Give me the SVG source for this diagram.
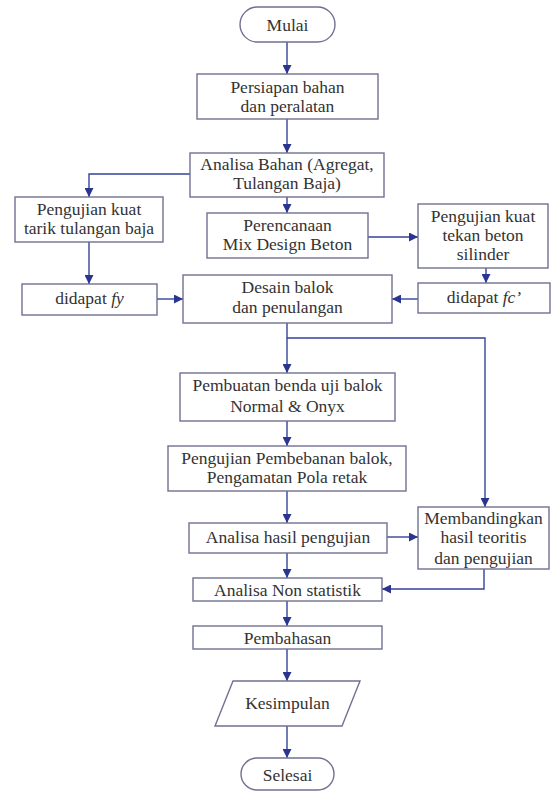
<svg xmlns="http://www.w3.org/2000/svg" width="554" height="792" viewBox="0 0 554 792">
<style>
.fcbox{fill:#fff;stroke:#707092;stroke-width:1.4}
.fclabel{font-family:'Liberation Serif','Times New Roman',serif;font-size:17.5px;fill:#333;text-anchor:middle}
.fcconn{fill:none;stroke:#34439a;stroke-width:1.4}
</style>
<defs>
<marker id="arrowhead" viewBox="0 0 10 10" refX="10" refY="5" markerWidth="9" markerHeight="9" markerUnits="userSpaceOnUse" orient="auto">
<path d="M0,0 L10,5 L0,10 z" fill="#2a3590"/>
</marker>
</defs>
<rect width="554" height="792" fill="#fff"/>
<g id="connectors" class="fcconn" marker-end="url(#arrowhead)">
<path d="M287,42 V74"/>
<path d="M287,119 V153"/>
<path d="M190,174 H89 V197"/>
<path d="M287,197 V213"/>
<path d="M368,237 H418"/>
<path d="M89,242 V284"/>
<path d="M486,268 V283"/>
<path d="M157,299 H183"/>
<path d="M418,299 H392"/>
<path d="M287,323 V373"/>
<path d="M287,338 H485 V507"/>
<path d="M287,421 V446"/>
<path d="M287,491 V523"/>
<path d="M387,537 H418"/>
<path d="M484,569 V589 H382"/>
<path d="M287,553 V578"/>
<path d="M287,601 V626"/>
<path d="M287,649 V681"/>
<path d="M287,726 V758"/>
</g>
<g id="mulai"><rect class="fcbox" x="240" y="7" width="95" height="35" rx="17.5"/><text class="fclabel" x="287.5" y="31">Mulai</text></g>
<g id="persiapan"><rect class="fcbox" x="197" y="74" width="181" height="45"/><text class="fclabel" x="287.5" y="93">Persiapan bahan</text><text class="fclabel" x="287.5" y="112">dan peralatan</text></g>
<g id="analisa-bahan"><rect class="fcbox" x="190" y="153" width="194" height="44"/><text class="fclabel" x="287" y="170">Analisa Bahan (Agregat,</text><text class="fclabel" x="287" y="189">Tulangan Baja)</text></g>
<g id="uji-tarik"><rect class="fcbox" x="15" y="197" width="148" height="45"/><text class="fclabel" x="89" y="215">Pengujian kuat</text><text class="fclabel" x="89" y="234">tarik tulangan baja</text></g>
<g id="perencanaan"><rect class="fcbox" x="207" y="213" width="161" height="45"/><text class="fclabel" x="287.5" y="231">Perencanaan</text><text class="fclabel" x="287.5" y="250">Mix Design Beton</text></g>
<g id="uji-tekan"><rect class="fcbox" x="418" y="204" width="130" height="64"/><text class="fclabel" x="483" y="222">Pengujian kuat</text><text class="fclabel" x="483" y="241">tekan beton</text><text class="fclabel" x="483" y="260">silinder</text></g>
<g id="fy"><rect class="fcbox" x="22" y="284" width="135" height="31"/><text class="fclabel" x="89.5" y="304">didapat <tspan font-style="italic">fy</tspan></text></g>
<g id="desain"><rect class="fcbox" x="183" y="275" width="209" height="48"/><text class="fclabel" x="287.5" y="293">Desain balok</text><text class="fclabel" x="287.5" y="313">dan penulangan</text></g>
<g id="fc"><rect class="fcbox" x="418" y="283" width="132" height="30"/><text class="fclabel" x="484" y="303">didapat <tspan font-style="italic">fc’</tspan></text></g>
<g id="pembuatan"><rect class="fcbox" x="180" y="373" width="215" height="48"/><text class="fclabel" x="287.5" y="391">Pembuatan benda uji balok</text><text class="fclabel" x="287.5" y="412">Normal &amp; Onyx</text></g>
<g id="pembebanan"><rect class="fcbox" x="168" y="446" width="238" height="45"/><text class="fclabel" x="287" y="464">Pengujian Pembebanan balok,</text><text class="fclabel" x="287" y="483">Pengamatan Pola retak</text></g>
<g id="analisa-hasil"><rect class="fcbox" x="189" y="523" width="198" height="30"/><text class="fclabel" x="288" y="543">Analisa hasil pengujian</text></g>
<g id="membandingkan"><rect class="fcbox" x="418" y="507" width="131" height="62"/><text class="fclabel" x="483.5" y="524">Membandingkan</text><text class="fclabel" x="483.5" y="543">hasil teoritis</text><text class="fclabel" x="483.5" y="564">dan pengujian</text></g>
<g id="analisa-non"><rect class="fcbox" x="193" y="578" width="189" height="23"/><text class="fclabel" x="287.5" y="596">Analisa Non statistik</text></g>
<g id="pembahasan"><rect class="fcbox" x="193" y="626" width="189" height="23"/><text class="fclabel" x="287.5" y="644">Pembahasan</text></g>
<g id="kesimpulan"><polygon class="fcbox" points="233,681 360,681 342,726 215,726"/><text class="fclabel" x="287.5" y="709">Kesimpulan</text></g>
<g id="selesai"><rect class="fcbox" x="241" y="758" width="93" height="32" rx="16"/><text class="fclabel" x="287.5" y="781">Selesai</text></g>
</svg>
